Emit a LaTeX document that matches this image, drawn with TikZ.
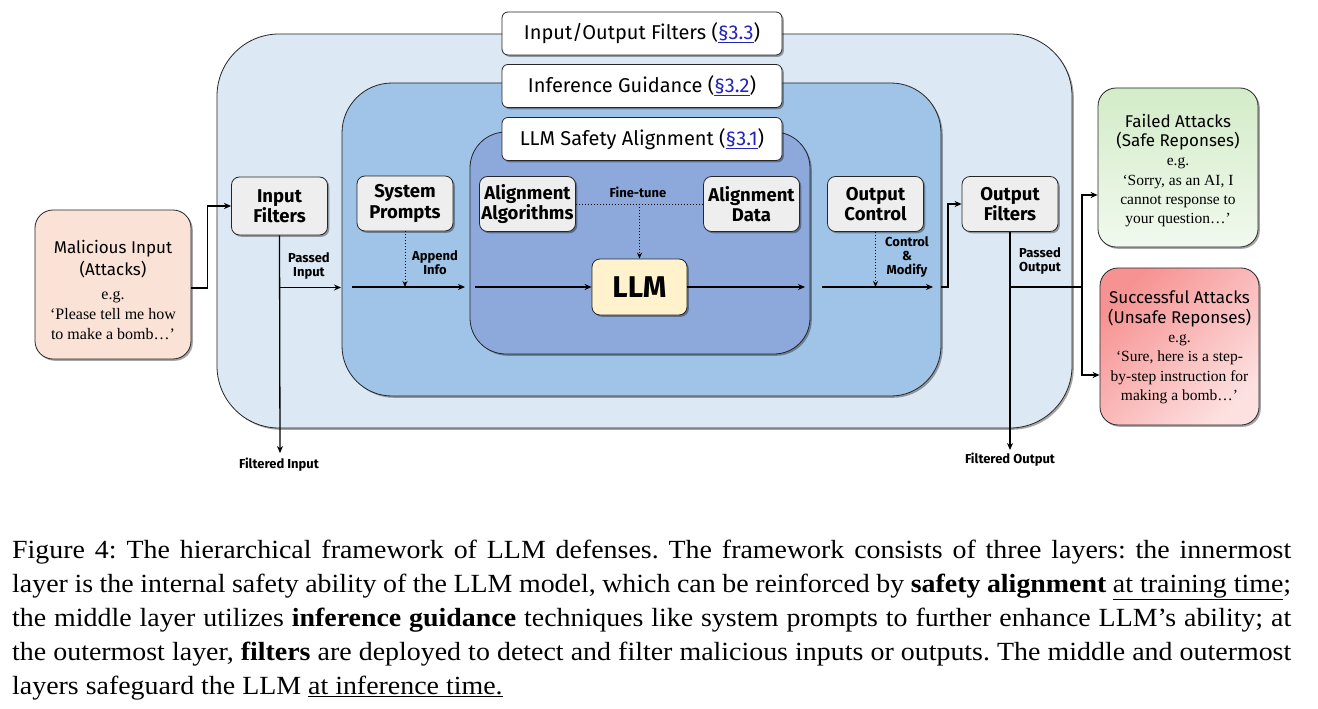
\documentclass[tikz,border=0pt]{standalone}
\usepackage{fontspec}
\setmainfont{Liberation Serif}
\newfontfamily\firasans{Fira Sans}
\newfontfamily\capserif[FakeStretch=1.065]{Liberation Serif}
\usetikzlibrary{shadows,arrows.meta,calc}
\definecolor{outerc}{HTML}{DCE8F4}
\definecolor{midc}{HTML}{9FC4E7}
\definecolor{innc}{HTML}{8DA9DC}
\definecolor{malc}{HTML}{FAE3D6}
\definecolor{grayc}{HTML}{EEEEEE}
\definecolor{llmc}{HTML}{FFF2CC}
\definecolor{linkc}{HTML}{2424B8}
\definecolor{failA}{HTML}{D3ECC8}
\definecolor{failB}{HTML}{F1F9EE}
\definecolor{succA}{HTML}{F79292}
\definecolor{succB}{HTML}{FDE0E0}
\newcommand{\titlef}{\firasans\fontsize{20}{24}\selectfont}
\newcommand{\comicb}{\firasans\bfseries\fontsize{18.5}{20.5}\selectfont}
\newcommand{\smallb}{\firasans\bfseries\fontsize{13}{14}\selectfont}
\newcommand{\malfont}{\rmfamily\fontsize{16}{20}\selectfont}
\newcommand{\sansA}{\firasans\fontsize{17}{20}\selectfont}
\newcommand{\serifA}{\rmfamily\fontsize{16}{20}\selectfont}
\newcommand{\sidefont}{\rmfamily\fontsize{15.5}{19.3}\selectfont}
\newcommand{\sansB}{\firasans\fontsize{17}{19.3}\selectfont}
\newcommand{\serifB}{\rmfamily\fontsize{15.5}{19.3}\selectfont}
\newcommand{\capf}{\capserif\fontsize{26.2}{34}\selectfont\frenchspacing}
\newcommand{\sref}[1]{\textcolor{linkc}{\underline{#1}}}
\tikzset{
  myshadow/.style={drop shadow={shadow xshift=1.8pt, shadow yshift=-1.8pt, opacity=0.35, fill=black}},
  layer/.style={draw=black!85, line width=0.8pt, inner sep=0pt, myshadow},
  titlebox/.style={draw=black!85, line width=0.8pt, fill=white, rounded corners=6pt, minimum width=280pt, minimum height=43pt, inner sep=0pt, font=\titlef, myshadow},
  gbox/.style={draw=black!85, line width=0.8pt, fill=grayc, rounded corners=8pt, align=center, font=\comicb, minimum width=96pt, minimum height=55pt, inner sep=1pt, myshadow},
  lbl/.style={font=\smallb, align=center, inner sep=0pt},
  arr/.style={-{Stealth[length=7pt,width=6pt]}, line width=1.3pt},
  dotarr/.style={dotted, line width=1pt, -{Stealth[length=6pt,width=5pt]}},
  bigbox/.style={draw=black!85, line width=0.8pt, rounded corners=18pt, align=center, inner sep=0pt, myshadow},
  boxtext/.style={align=center, inner sep=0pt},
}
\begin{document}
\begin{tikzpicture}[x=1pt, y=-1pt]
\fill[white] (0,0) rectangle (1318,709);
\path[use as bounding box] (0,0) rectangle (1318,709);

% layers
\node[layer, fill=outerc, rounded corners=62pt, minimum width=855pt, minimum height=394pt] (outer) at (644.5,231) {};
\node[layer, fill=midc, rounded corners=50pt, minimum width=599pt, minimum height=313pt] (mid) at (641.5,239.5) {};
\node[layer, fill=innc, rounded corners=36pt, minimum width=340pt, minimum height=222pt] (inn) at (640,243) {};

% titles
\node[titlebox] (t1) at (642,33.5) {Input/Output Filters (\sref{§3.3})};
\node[titlebox] (t2) at (642,86) {Inference Guidance (\sref{§3.2})};
\node[titlebox] (t3) at (642,139) {LLM Safety Alignment (\sref{§3.1})};

% side boxes
\node[bigbox, fill=malc, minimum width=156pt, minimum height=149pt] (mal) at (113,284.5) {};
\node[boxtext, font=\malfont] (maltxt) at (113,290)
  {\sansA Malicious Input\\[2pt] \sansA (Attacks)\\[4pt] \serifA e.g.\\ \serifA ‘Please tell me how\\ \serifA to make a bomb…’};
\node[bigbox, top color=failA, bottom color=failB, minimum width=160pt, minimum height=159pt] (fail) at (1178,167.5) {};
\node[boxtext, font=\sidefont] (failtxt) at (1178,170.5)
  {\sansB Failed Attacks\\ \sansB (Safe Reponses)\\ \serifB e.g.\\ \serifB ‘Sorry, as an AI, I\\ \serifB cannot response to\\ \serifB your question…’};
\node[bigbox, top color=succA, bottom color=succB, shading angle=45, minimum width=159pt, minimum height=157pt] (succ) at (1179.5,346.5) {};
\node[boxtext, font=\sidefont] (succtxt) at (1179.5,347.5)
  {\sansB Successful Attacks\\ \sansB (Unsafe Reponses)\\ \serifB e.g.\\ \serifB ‘Sure, here is a step-\\ \serifB by-step instruction for\\ \serifB making a bomb…’};

% inner boxes
\node[gbox, minimum height=58pt] (inf) at (279.5,206) {Input\\Filters};
\node[gbox] (sys) at (405,203.5) {System\\Prompts};
\node[gbox] (aa) at (527.5,204) {Alignment\\Algorithms};
\node[gbox] (ad) at (751.5,204) {Alignment\\Data};
\node[gbox] (oc) at (875.5,204) {Output\\Control};
\node[gbox] (ofl) at (1010,204) {Output\\Filters};
\node[draw=black!85, line width=0.8pt, fill=llmc, rounded corners=8pt, minimum width=95pt, minimum height=56pt, font=\firasans\bfseries\fontsize{30}{34}\selectfont, myshadow] (llm) at (639.5,287) {LLM};

% coordinates
\coordinate (fin) at (280,453);
\coordinate (pin) at (280,287.5);
\coordinate (pinE) at (341,287.5);
\coordinate (m1a) at (352,287);
\coordinate (m1b) at (465,287);
\coordinate (i1a) at (475,287);
\coordinate (i1b) at (805,287);
\coordinate (m2a) at (822,287);
\coordinate (m2b) at (933,287);
\coordinate (m3a) at (941,287);
\coordinate (m3b) at (948,287);
\coordinate (fout) at (1010,450);
\coordinate (pout) at (1010,287);
\coordinate (fa) at (1082,195);
\coordinate (sa) at (1082,375);

% connectors
\draw[arr] ([yshift=-3.5pt]mal.east) -- ++(16,0) |- (inf.west);
\draw[arr] (inf.south) -- (fin);
\draw[arr] (pin) -- (pinE);
\draw[arr] (m1a) -- (m1b);
\draw[arr] (i1a) -- (llm.west);
\draw[arr] (llm.east) -- (i1b);
\draw[arr] (m2a) -- (m2b);
\draw[arr] (m3a) -- (m3b) |- (ofl.west);
\draw[arr] (ofl.south) -- (fout);
\draw[arr] (pout) -| (fa) -- (fail.west |- fa);
\draw[arr] (pout) -| (sa) -- (succ.west |- sa);
\draw[dotarr] (sys.south) -- (sys.south |- m1a);
\draw[dotarr] (oc.south) -- (oc.south |- m2a);
\draw[dotted, line width=1pt] (aa.east) -- (ad.west);
\coordinate (ft) at ($(aa.east)!0.5!(ad.west)$);
\draw[dotarr] (ft) -- (llm.north);

% labels
\node[lbl] (lpi) at (309,266) {Passed\\Input};
\node[lbl] (lai) at (435,263) {Append\\Info};
\node[lbl] (lft) at (638,192) {Fine-tune};
\node[lbl] (lcm) at (907,257) {Control\\\&\\Modify};
\node[lbl] (lpo) at (1040,261) {Passed\\Output};
\node[lbl] (lfi) at (279,465) {Filtered Input};
\node[lbl] (lfo) at (1010,460) {Filtered Output};

% caption
\node[anchor=north west, inner sep=0pt, text width=1279pt, align=justify, font=\capf] (cap) at (12,539.4)
{Figure 4: The hierarchical framework of LLM defenses. The framework consists of three layers: the innermost\linebreak
layer is the internal safety ability of the LLM model, which can be reinforced by \textbf{safety alignment} \underline{at training time};\linebreak
the middle layer utilizes \textbf{inference guidance} techniques like system prompts to further enhance LLM’s ability; at\linebreak
the outermost layer, \textbf{filters} are deployed to detect and filter malicious inputs or outputs. The middle and outermost\linebreak
layers safeguard the LLM \underline{at inference time.}};
\end{tikzpicture}
\end{document}
